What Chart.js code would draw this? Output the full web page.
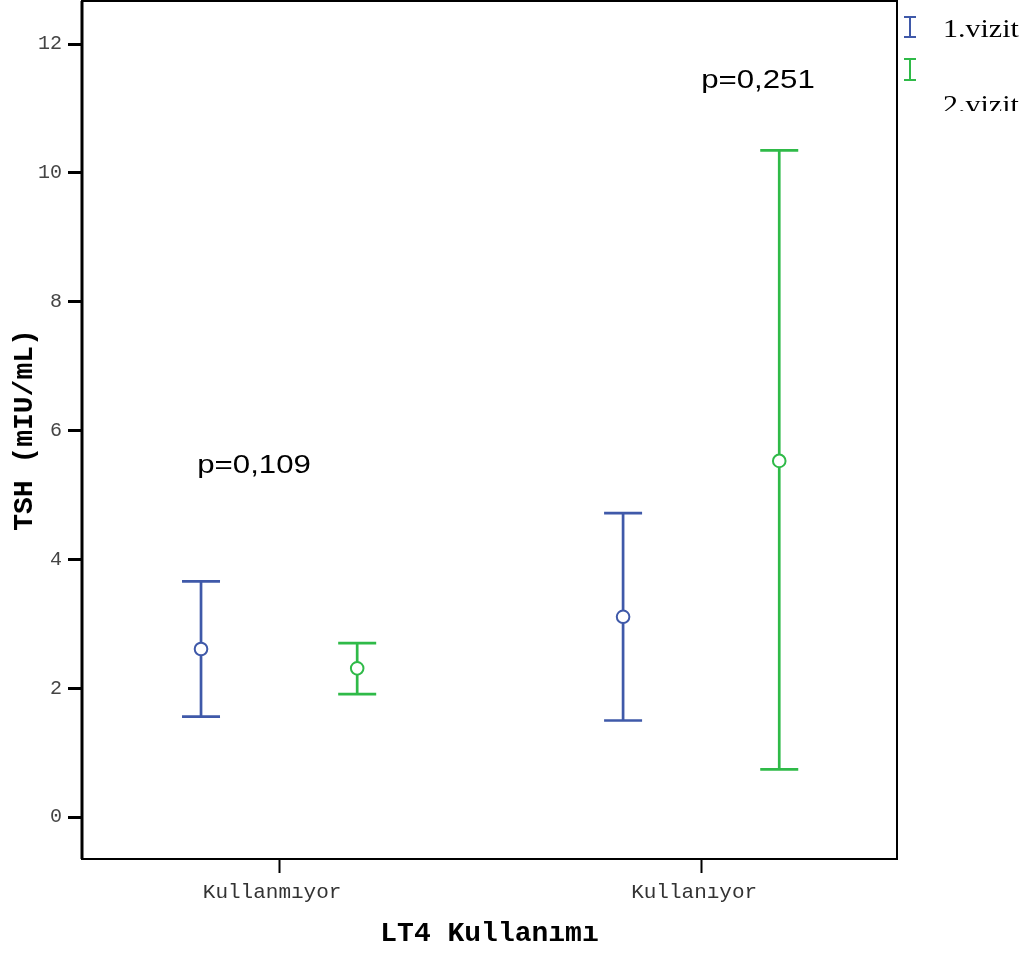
<!DOCTYPE html>
<html>
<head>
<meta charset="utf-8">
<script src="https://cdn.jsdelivr.net/npm/chart.js@4"></script>
<style>
  html, body { margin: 0; padding: 0; background: #fff; }
</style>
</head>
<body>
<canvas id="chart" width="1031" height="953"></canvas>
<script>
// data
const categories = ['Kullanmıyor', 'Kullanıyor'];
const seriesNames = ['1.vizit', '2.vizit'];
const visit1Mean = [2.61, 3.11];
const visit1Lower = [1.56, 1.50];
const visit1Upper = [3.66, 4.72];
const visit2Mean = [2.31, 5.53];
const visit2Lower = [1.91, 0.74];
const visit2Upper = [2.70, 10.35];
const yTicks = [0, 2, 4, 6, 8, 10, 12];
const pValues = ['p=0,109', 'p=0,251'];

const BLUE = '#3f59a9';
const GREEN = '#2fba48';
const GROUP_OFFSET = 0.185;

function makePoints(mean, lower, upper, shift) {
    return categories.map((c, i) => ({
        x: i + shift,
        y: mean[i],
        lo: lower[i],
        hi: upper[i]
    }));
}

// stretched text, the reference fonts run wider than ours
function drawText(ctx, text, x, y, font, sx) {
    ctx.save();
    ctx.font = font;
    ctx.fillStyle = '#000';
    ctx.textBaseline = 'alphabetic';
    ctx.textAlign = 'left';
    ctx.translate(x, y);
    ctx.scale(sx, 1);
    ctx.fillText(text, 0, 0);
    ctx.restore();
}

const errorBars = {
    id: 'errorBars',
    beforeDatasetsDraw(chart) {
        const {ctx, scales: {x, y}} = chart;
        ctx.save();
        chart.data.datasets.forEach(ds => {
            ctx.strokeStyle = ds.borderColor;
            ctx.lineWidth = 2.7;
            ds.data.forEach(pt => {
                const px = x.getPixelForValue(pt.x);
                const yl = y.getPixelForValue(pt.lo);
                const yh = y.getPixelForValue(pt.hi);
                ctx.beginPath();
                ctx.moveTo(px, yl);
                ctx.lineTo(px, yh);
                ctx.moveTo(px - 19, yl);
                ctx.lineTo(px + 19, yl);
                ctx.moveTo(px - 19, yh);
                ctx.lineTo(px + 19, yh);
                ctx.stroke();
            });
        });
        ctx.restore();
    }
};

const extras = {
    id: 'extras',
    afterDraw(chart) {
        const {ctx, chartArea: a, scales: {x, y}} = chart;
        ctx.save();
        // frame
        ctx.strokeStyle = '#000';
        ctx.lineWidth = 2;
        ctx.strokeRect(a.left, a.top, a.right - a.left, a.bottom - a.top);
        ctx.lineWidth = 3;
        ctx.beginPath();
        ctx.moveTo(a.left, a.top);
        ctx.lineTo(a.left, a.bottom);
        ctx.stroke();

        // p values
        const pX = [-0.194, 1.0];
        const pY = [5.35, 11.32];
        pValues.forEach((t, i) => {
            drawText(ctx, t, x.getPixelForValue(pX[i]), y.getPixelForValue(pY[i]),
                '26px "Liberation Sans", Arial, sans-serif', 1.2);
        });

        // legend
        const colors = [BLUE, GREEN];
        const iconTop = [17, 59];
        const iconH = [20, 21];
        ctx.lineWidth = 2;
        colors.forEach((c, i) => {
            ctx.strokeStyle = c;
            ctx.beginPath();
            ctx.moveTo(910, iconTop[i]);
            ctx.lineTo(910, iconTop[i] + iconH[i]);
            ctx.moveTo(904, iconTop[i]);
            ctx.lineTo(916, iconTop[i]);
            ctx.moveTo(904, iconTop[i] + iconH[i]);
            ctx.lineTo(916, iconTop[i] + iconH[i]);
            ctx.stroke();
        });
        const legendFont = '25px "Liberation Serif", "Times New Roman", serif';
        drawText(ctx, seriesNames[0], 943, 37, legendFont, 1.2);
        ctx.save();
        ctx.beginPath();
        ctx.rect(900, 80, 131, 31);
        ctx.clip();
        drawText(ctx, seriesNames[1], 943, 113, legendFont, 1.2);
        ctx.restore();
        ctx.restore();
    }
};

new Chart(document.getElementById('chart'), {
    type: 'scatter',
    data: {
        datasets: [
            {
                label: seriesNames[0],
                data: makePoints(visit1Mean, visit1Lower, visit1Upper, -GROUP_OFFSET),
                borderColor: BLUE,
                backgroundColor: '#fff',
                pointRadius: 6.3,
                pointBorderWidth: 2,
                showLine: false
            },
            {
                label: seriesNames[1],
                data: makePoints(visit2Mean, visit2Lower, visit2Upper, GROUP_OFFSET),
                borderColor: GREEN,
                backgroundColor: '#fff',
                pointRadius: 6.3,
                pointBorderWidth: 2,
                showLine: false
            }
        ]
    },
    options: {
        responsive: false,
        devicePixelRatio: 1,
        animation: false,
        layout: {
            autoPadding: false,
            padding: {top: 1, right: 134, left: 0, bottom: 0}
        },
        plugins: {
            legend: {display: false},
            tooltip: {enabled: false}
        },
        scales: {
            x: {
                type: 'linear',
                min: -0.467,
                max: 1.464,
                afterBuildTicks: scale => {
                    scale.ticks = categories.map((c, i) => ({value: i}));
                },
                afterFit: scale => {
                    scale.height = 94;
                    scale.paddingLeft = 0;
                    scale.paddingRight = 0;
                },
                border: {display: false},
                grid: {
                    drawOnChartArea: false,
                    tickLength: 14,
                    tickWidth: 2,
                    tickColor: '#000'
                },
                ticks: {
                    callback: v => categories[v],
                    color: '#333',
                    padding: 7,
                    labelOffset: -7,
                    maxRotation: 0,
                    font: {family: '"Liberation Mono", monospace', size: 21}
                },
                title: {
                    display: true,
                    text: 'LT4 Kullanımı',
                    color: '#000',
                    padding: {top: 0, bottom: 2},
                    font: {family: '"Liberation Mono", monospace', size: 28, weight: 'bold'}
                }
            },
            y: {
                min: -0.65,
                max: 12.67,
                afterBuildTicks: scale => {
                    scale.ticks = yTicks.map(v => ({value: v}));
                },
                afterFit: scale => {
                    scale.width = 82;
                    scale.paddingTop = 0;
                    scale.paddingBottom = 0;
                },
                border: {display: false},
                grid: {
                    drawOnChartArea: false,
                    tickLength: 14,
                    tickWidth: 3,
                    tickColor: '#000'
                },
                ticks: {
                    color: '#444',
                    padding: 6,
                    font: {family: '"Liberation Mono", monospace', size: 20}
                },
                title: {
                    display: true,
                    text: 'TSH (mIU/mL)',
                    color: '#000',
                    padding: {top: 8, bottom: 0},
                    font: {family: '"Liberation Mono", monospace', size: 28, weight: 'bold'}
                }
            }
        }
    },
    plugins: [errorBars, extras]
});
</script>
</body>
</html>
